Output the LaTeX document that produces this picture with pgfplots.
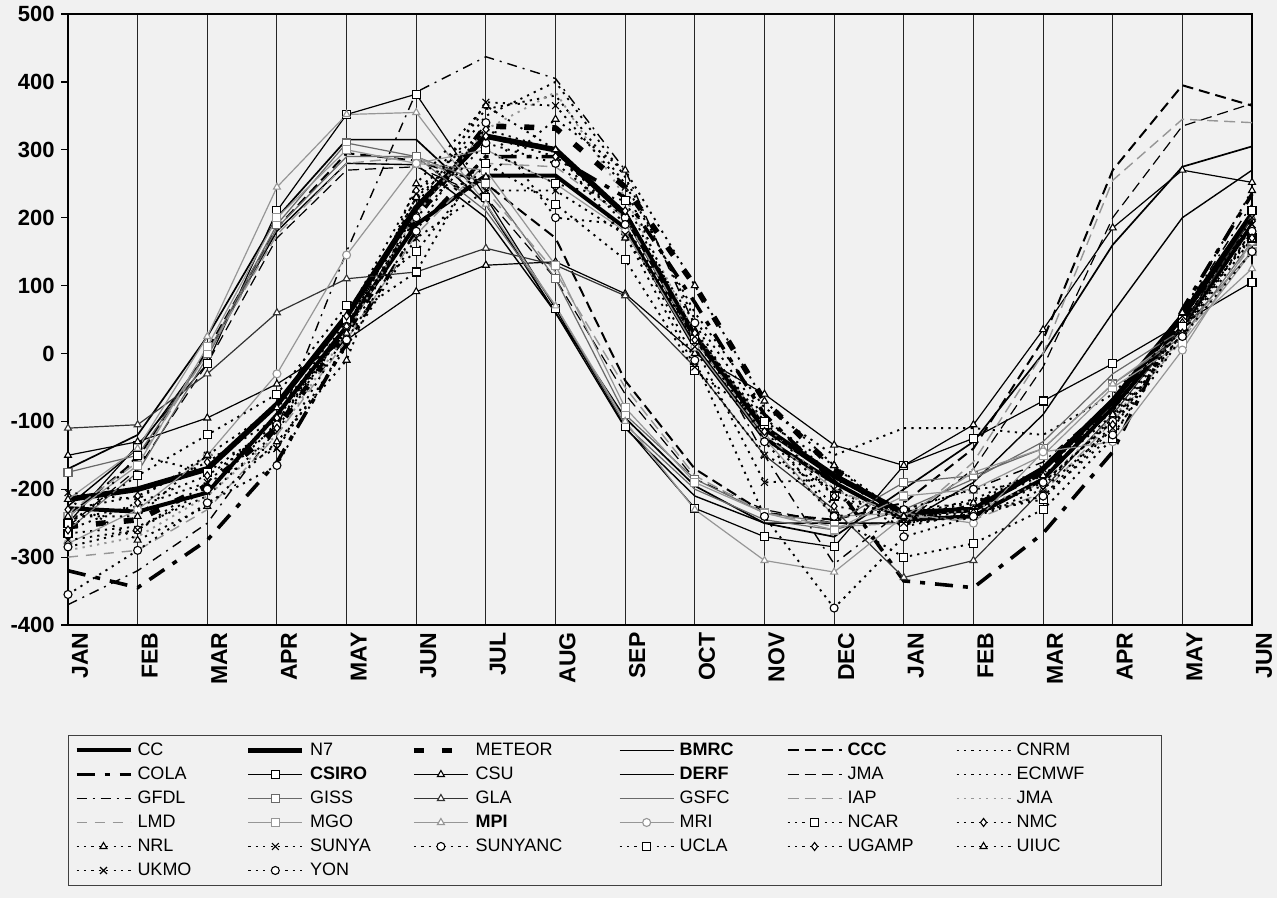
\documentclass[border=0pt]{standalone}
\usepackage{pgfplots}
\usepackage{pgfplotstable}
\pgfplotsset{compat=1.18}
\usepackage{fontspec}
\setmainfont{Liberation Sans}

\definecolor{paper}{RGB}{241,241,241}
\definecolor{midgray}{RGB}{105,105,105}
\definecolor{ltgray}{RGB}{150,150,150}

% month index 0 = JAN of first year ... 17 = JUN of second year
\pgfplotstableread{
m CC N7 METEOR COLA GFDL LMD BMRC DERF GSFC CCC JMAd IAP
0 -228 -215 -255 -320 -370 -300 -170 -225 -260 -240 -255 -235
1 -233 -200 -245 -345 -320 -290 -120 -140 -175 -155 -170 -160
2 -205 -170 -195 -275 -250 -230 25 0 -5 5 -15 0
3 -90 -75 -110 -160 -110 -120 200 180 185 185 170 175
4 40 55 30 15 150 20 315 280 290 295 270 280
5 190 215 200 180 385 175 315 278 290 284 275 290
6 262 320 335 290 437 280 220 200 210 250 230 240
7 262 300 332 290 405 275 60 60 70 170 110 120
8 185 205 245 230 270 200 -95 -110 -105 -40 -60 -50
9 10 25 100 75 40 20 -195 -210 -200 -170 -185 -180
10 -125 -110 -70 -90 -150 -120 -250 -250 -245 -235 -230 -235
11 -190 -180 -170 -190 -310 -200 -270 -250 -260 -245 -250 -255
12 -245 -235 -250 -335 -230 -240 -200 -250 -230 -220 -250 -250
13 -240 -230 -225 -345 -200 -245 -130 -190 -185 -140 -170 -160
14 -185 -170 -175 -265 -160 -205 0 -90 -130 20 -20 0
15 -80 -70 -75 -145 -70 -100 160 60 -30 270 200 255
16 40 55 50 65 60 20 275 200 35 395 335 345
17 190 205 195 235 220 160 305 270 150 365 368 340
}\tabLines

\pgfplotstableread{
m CSIRO GISS MGO CSU GLA MPI MRI UCLA NCAR
0 -250 -175 -240 -150 -110 -215 -280 -250 -265
1 -135 -150 -165 -130 -105 -140 -230 -180 -150
2 -15 0 10 -95 -30 25 -150 -120 -175
3 210 190 200 -45 60 245 -30 -60 -105
4 352 310 300 20 110 352 145 70 50
5 382 290 280 91 120 355 280 150 120
6 230 250 270 130 155 220 300 280 300
7 66 110 130 135 130 70 250 220 250
8 -108 -90 -80 88 85 -100 180 138 225
9 -228 -185 -190 0 -20 -230 10 -25 20
10 -270 -235 -235 -60 -150 -305 -125 -100 -105
11 -285 -250 -260 -135 -230 -322 -240 -210 -240
12 -165 -190 -210 -165 -330 -240 -235 -255 -300
13 -125 -180 -200 -105 -305 -175 -250 -235 -280
14 -70 -140 -150 35 -200 -140 -145 -215 -230
15 -15 -45 -50 185 -90 -45 -130 -110 -125
16 45 25 15 270 40 30 5 40 50
17 105 165 150 252 200 125 165 210 170
}\tabMarked

\pgfplotstableread{
m NRL UKMO SUNYA YON SUNYANC UGAMP NMC UIUC CNRM ECMWF JMAp
0 -215 -275 -205 -355 -285 -260 -230 -240 -245 -265 -290
1 -275 -260 -215 -290 -260 -220 -210 -240 -225 -255 -270
2 -225 -190 -150 -220 -200 -180 -160 -150 -190 -210 -210
3 -130 -140 -140 -165 -105 -110 -95 -80 -95 -115 -120
4 -10 10 30 20 40 40 55 30 35 40 30
5 250 170 210 180 200 230 240 230 230 220 205
6 365 240 370 340 310 320 330 260 360 350 330
7 300 240 365 200 280 290 300 345 380 400 385
8 170 175 245 190 200 210 190 270 250 260 230
9 30 -20 10 -10 45 30 20 100 60 50 30
10 -100 -150 -190 -240 -130 -115 -120 -70 -80 -95 -105
11 -165 -200 -185 -375 -240 -210 -225 -165 -150 -180 -200
12 -250 -250 -230 -270 -230 -240 -240 -240 -110 -240 -245
13 -235 -240 -220 -240 -200 -235 -230 -220 -110 -215 -230
14 -190 -200 -170 -210 -190 -210 -195 -180 -120 -170 -190
15 -100 -110 -85 -120 -100 -105 -95 -90 -60 -80 -95
16 40 30 55 25 30 30 45 60 50 35 20
17 175 200 190 150 180 170 185 240 200 180 170
}\tabDotted

% legend text cells of fixed width, one width per legend column
\newcommand{\lc}[2]{\makebox[#1][l]{\hspace{2.5pt}#2}}

\pgfplotsset{
  thin line/.style={black, line width=0.6pt, mark size=2pt,
    mark options={solid, fill=white, line width=0.55pt}},
  dotline/.style={thin line, line width=0.95pt, dash pattern=on 1.1pt off 2.6pt},
}

\begin{document}
\begin{tikzpicture}
\path[use as bounding box, fill=paper] (0,0) rectangle (638.5pt,-449pt);
\begin{axis}[
  at={(34pt,-312.5pt)}, anchor=south west,
  width=592pt, height=305.5pt, scale only axis,
  xmin=0, xmax=17, ymin=-400, ymax=500,
  clip=false,
  axis line style={line width=1.3pt},
  xtick={0,...,17},
  xticklabels={JAN,FEB,MAR,APR,MAY,JUN,JUL,AUG,SEP,OCT,NOV,DEC,JAN,FEB,MAR,APR,MAY,JUN},
  xticklabel style={rotate=90, anchor=east, font=\bfseries\fontsize{11.5}{13}\selectfont, inner sep=0pt, yshift=-6pt},
  xtick style={draw=none},
  xmajorgrids,
  major grid style={line width=0.45pt, black!85},
  ytick={-400,-300,...,500},
  yticklabels={-400,-300,-200,-100,0,100,200,300,400,500},
  yticklabel style={font=\bfseries\fontsize{11}{13}\selectfont, inner sep=1pt, xshift=-2pt},
  ytick pos=left,
  tick align=outside,
  major tick length=3.5pt,
  ytick style={line width=0.6pt, black},
  legend columns=6,
  legend cell align=left,
  legend image code/.code={\draw[mark repeat=2, mark phase=2]
    plot coordinates {(0pt,0pt) (13.5pt,0pt) (27pt,0pt)};},
  legend style={at={(0,-0.18)}, anchor=north west, draw=black!75, line width=0.5pt,
    fill=paper, font=\fontsize{9}{10}\selectfont,
    inner xsep=3pt, inner ysep=3pt, row sep=3pt, column sep=0pt,
    nodes={inner sep=0pt, text height=6.8pt, text depth=2.2pt}},
]
% row 1
\addplot[thin line, line width=2pt] table[x=m, y=CC] {\tabLines};
\addlegendentry{\lc{56.5pt}{CC}}
\addplot[thin line, line width=2.8pt] table[x=m, y=N7] {\tabLines};
\addlegendentry{\lc{53pt}{N7}}
\addplot[thin line, line width=2.8pt, dash pattern=on 5pt off 9pt] table[x=m, y=METEOR] {\tabLines};
\addlegendentry{\lc{74pt}{METEOR}}
\addplot[thin line, line width=0.85pt] table[x=m, y=BMRC] {\tabLines};
\addlegendentry{\lc{56pt}{\bfseries BMRC}}
\addplot[thin line, line width=1pt, dash pattern=on 5.5pt off 3pt] table[x=m, y=CCC] {\tabLines};
\addlegendentry{\lc{56.5pt}{\bfseries CCC}}
\addplot[dotline] table[x=m, y=CNRM] {\tabDotted};
\addlegendentry{\lc{72pt}{CNRM}}
% row 2
\addplot[thin line, line width=1.8pt, dash pattern=on 9pt off 5pt on 2.5pt off 5pt] table[x=m, y=COLA] {\tabLines};
\addlegendentry{\lc{56.5pt}{COLA}}
\addplot[thin line, mark=square*] table[x=m, y=CSIRO] {\tabMarked};
\addlegendentry{\lc{53pt}{\bfseries CSIRO}}
\addplot[thin line, mark=triangle*] table[x=m, y=CSU] {\tabMarked};
\addlegendentry{\lc{74pt}{CSU}}
\addplot[thin line, line width=0.7pt] table[x=m, y=DERF] {\tabLines};
\addlegendentry{\lc{56pt}{\bfseries DERF}}
\addplot[thin line, line width=0.6pt, dash pattern=on 5.5pt off 3pt] table[x=m, y=JMAd] {\tabLines};
\addlegendentry{\lc{56.5pt}{JMA}}
\addplot[dotline] table[x=m, y=ECMWF] {\tabDotted};
\addlegendentry{\lc{72pt}{ECMWF}}
% row 3
\addplot[thin line, line width=0.7pt, dash pattern=on 5pt off 3pt on 1pt off 3pt] table[x=m, y=GFDL] {\tabLines};
\addlegendentry{\lc{56.5pt}{GFDL}}
\addplot[thin line, midgray, mark=square*] table[x=m, y=GISS] {\tabMarked};
\addlegendentry{\lc{53pt}{GISS}}
\addplot[thin line, black!80, mark=triangle*] table[x=m, y=GLA] {\tabMarked};
\addlegendentry{\lc{74pt}{GLA}}
\addplot[thin line, midgray] table[x=m, y=GSFC] {\tabLines};
\addlegendentry{\lc{56pt}{GSFC}}
\addplot[thin line, ltgray, line width=0.7pt, dash pattern=on 5.5pt off 3pt] table[x=m, y=IAP] {\tabLines};
\addlegendentry{\lc{56.5pt}{IAP}}
\addplot[dotline, ltgray] table[x=m, y=JMAp] {\tabDotted};
\addlegendentry{\lc{72pt}{JMA}}
% row 4
\addplot[thin line, ltgray, line width=0.7pt, dash pattern=on 5pt off 4pt] table[x=m, y=LMD] {\tabLines};
\addlegendentry{\lc{56.5pt}{LMD}}
\addplot[thin line, ltgray, mark=square*] table[x=m, y=MGO] {\tabMarked};
\addlegendentry{\lc{53pt}{MGO}}
\addplot[thin line, ltgray, mark=triangle*] table[x=m, y=MPI] {\tabMarked};
\addlegendentry{\lc{74pt}{\bfseries MPI}}
\addplot[thin line, ltgray, mark=*] table[x=m, y=MRI] {\tabMarked};
\addlegendentry{\lc{56pt}{MRI}}
\addplot[dotline, mark=square*] table[x=m, y=NCAR] {\tabMarked};
\addlegendentry{\lc{56.5pt}{NCAR}}
\addplot[dotline, mark=diamond*] table[x=m, y=NMC] {\tabDotted};
\addlegendentry{\lc{72pt}{NMC}}
% row 5
\addplot[dotline, mark=triangle*] table[x=m, y=NRL] {\tabDotted};
\addlegendentry{\lc{56.5pt}{NRL}}
\addplot[dotline, mark=x, mark size=2.4pt] table[x=m, y=SUNYA] {\tabDotted};
\addlegendentry{\lc{53pt}{SUNYA}}
\addplot[dotline, mark=*] table[x=m, y=SUNYANC] {\tabDotted};
\addlegendentry{\lc{74pt}{SUNYANC}}
\addplot[dotline, mark=square*] table[x=m, y=UCLA] {\tabMarked};
\addlegendentry{\lc{56pt}{UCLA}}
\addplot[dotline, mark=diamond*] table[x=m, y=UGAMP] {\tabDotted};
\addlegendentry{\lc{56.5pt}{UGAMP}}
\addplot[dotline, mark=triangle*] table[x=m, y=UIUC] {\tabDotted};
\addlegendentry{\lc{72pt}{UIUC}}
% row 6
\addplot[dotline, mark=x, mark size=2.4pt] table[x=m, y=UKMO] {\tabDotted};
\addlegendentry{\lc{56.5pt}{UKMO}}
\addplot[dotline, mark=*] table[x=m, y=YON] {\tabDotted};
\addlegendentry{\lc{53pt}{YON}}
\end{axis}
\end{tikzpicture}
\end{document}
